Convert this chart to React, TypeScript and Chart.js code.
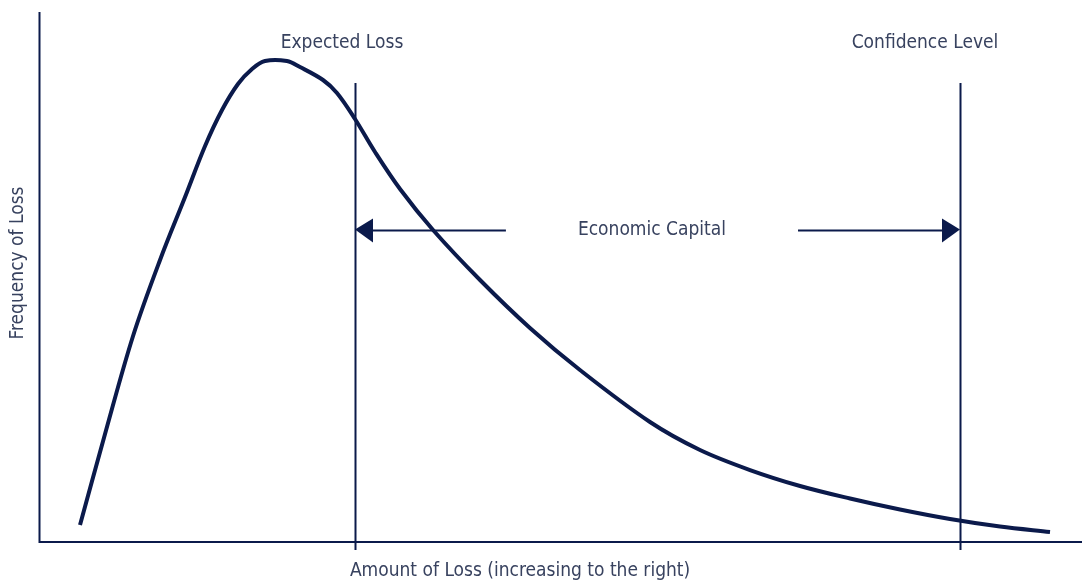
import React, { useEffect, useRef } from "react";
import { Chart, registerables } from "chart.js";

Chart.register(...registerables);

// Amount of loss (x, 0..100) and frequency of loss (y, 0..100)
const lossAmounts = [3.84, 6.24, 8.93, 11.52, 13.92, 15.84, 17.47, 19.0, 20.35, 21.59, 23.7, 24.95, 27.16, 28.5, 30.23, 32.15, 34.55, 37.72, 42.23, 47.02, 51.82, 58.54, 63.34, 68.14, 72.94, 77.74, 82.53, 87.33, 92.13, 96.93];
const frequencies = [3.21, 20.38, 38.87, 53.21, 65.09, 74.72, 81.51, 86.42, 89.25, 90.75, 90.75, 89.62, 87.17, 84.72, 79.81, 73.58, 66.6, 58.87, 49.43, 40.38, 32.45, 22.64, 17.36, 13.58, 10.57, 8.21, 6.13, 4.34, 2.92, 1.89];

// Annotation values
const markerNames = ["Expected Loss", "Confidence Level"];
const markerValues = [30.23, 88.29];
const markerLabelValues = [28.98, 84.93];
const markerTop = 86.6;
const labelLevel = 94.15;
const capitalLabel = "Economic Capital";
const capitalLevel = 58.87;
const capitalLabelValue = 58.73;

const xTitle = "Amount of Loss (increasing to the right)";
const xTitleValue = 46.07;
const yTitle = "Frequency of Loss";
const yTitleValue = 52.64;

const LINE = "#0b1a4b";
const TEXT = "#38425f";
const FONT = "19px 'DejaVu Sans Condensed', 'Liberation Sans', Arial, sans-serif";

const overlay = {
  id: "overlay",
  afterDatasetsDraw(chart: any) {
    const { ctx, chartArea, scales } = chart;
    const xs = scales.x;
    const ys = scales.y;
    ctx.save();
    // axes
    ctx.strokeStyle = LINE;
    ctx.lineWidth = 2;
    ctx.beginPath();
    ctx.moveTo(chartArea.left - 0.5, chartArea.top);
    ctx.lineTo(chartArea.left - 0.5, chartArea.bottom);
    ctx.lineTo(chartArea.right, chartArea.bottom);
    ctx.stroke();

    // vertical markers
    const topPx = ys.getPixelForValue(markerTop);
    markerValues.forEach((v) => {
      const px = Math.round(xs.getPixelForValue(v)) + 0.5;
      ctx.beginPath();
      ctx.moveTo(px, topPx);
      ctx.lineTo(px, chartArea.bottom + 8);
      ctx.stroke();
    });

    // labels
    ctx.fillStyle = TEXT;
    ctx.font = FONT;
    ctx.textAlign = "center";
    ctx.textBaseline = "middle";
    const ly = ys.getPixelForValue(labelLevel);
    markerNames.forEach((n, i) => {
      ctx.fillText(n, xs.getPixelForValue(markerLabelValues[i]), ly);
    });

    // economic capital arrow
    const ay = Math.round(ys.getPixelForValue(capitalLevel)) + 0.5;
    const cx = xs.getPixelForValue(capitalLabelValue);
    ctx.fillText(capitalLabel, cx, ay);
    const tw = ctx.measureText(capitalLabel).width;
    const gapL = cx - tw / 2 - 72;
    const gapR = cx + tw / 2 + 72;
    const x1 = xs.getPixelForValue(markerValues[0]);
    const x2 = xs.getPixelForValue(markerValues[1]);
    const headW = 18;
    const headH = 12;
    ctx.lineWidth = 2;
    ctx.beginPath();
    ctx.moveTo(x1 + headW, ay);
    ctx.lineTo(gapL, ay);
    ctx.moveTo(gapR, ay);
    ctx.lineTo(x2 - headW, ay);
    ctx.stroke();
    ctx.fillStyle = LINE;
    ctx.beginPath();
    ctx.moveTo(x1, ay - 1);
    ctx.lineTo(x1 + headW, ay - headH);
    ctx.lineTo(x1 + headW, ay + headH);
    ctx.closePath();
    ctx.fill();
    ctx.beginPath();
    ctx.moveTo(x2, ay - 1);
    ctx.lineTo(x2 - headW, ay - headH);
    ctx.lineTo(x2 - headW, ay + headH);
    ctx.closePath();
    ctx.fill();

    // axis titles
    ctx.fillStyle = TEXT;
    ctx.textAlign = "center";
    ctx.fillText(xTitle, xs.getPixelForValue(xTitleValue), chartArea.bottom + 29);
    ctx.save();
    ctx.translate(chartArea.left - 22, ys.getPixelForValue(yTitleValue));
    ctx.rotate(-Math.PI / 2);
    ctx.fillText(yTitle, 0, 0);
    ctx.restore();
    ctx.restore();
  },
};

export default function App() {
  const ref = useRef<HTMLCanvasElement>(null);
  useEffect(() => {
    document.body.style.margin = "0";
    const chart = new Chart(ref.current as HTMLCanvasElement, {
      type: "line",
      data: {
        datasets: [
          {
            data: lossAmounts.map((x, i) => ({ x, y: frequencies[i] })),
            borderColor: LINE,
            borderWidth: 4,
            pointRadius: 0,
            tension: 0.35,
            fill: false,
            clip: false as any,
          },
        ],
      },
      options: {
        responsive: false,
        animation: false,
        events: [],
        layout: { padding: { left: 40, right: 0, top: 12, bottom: 45 } },
        plugins: { legend: { display: false }, tooltip: { enabled: false } },
        scales: {
          x: { type: "linear", min: 0, max: 100, display: false },
          y: { type: "linear", min: 0, max: 100, display: false },
        },
      },
      plugins: [overlay],
    });
    return () => chart.destroy();
  }, []);
  return (
    <div style={{ position: "absolute", left: 0, top: 0, width: 1082, height: 587, background: "#fff" }}>
      <canvas ref={ref} width={1082} height={587} style={{ width: 1082, height: 587 }} />
    </div>
  );
}
